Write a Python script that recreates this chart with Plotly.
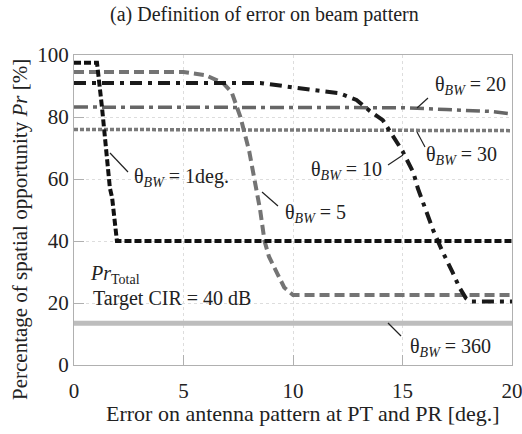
import plotly.graph_objects as go

# theta_BW = 1 deg
x1 = [0, 1.05, 1.28, 1.5, 1.64, 1.74, 1.87, 1.96, 20]
y1 = [97.5, 97.5, 83, 67, 57, 54, 46, 40, 40]
# theta_BW = 5
x5 = [0, 5, 6, 6.8, 7.2, 7.6, 8.0, 8.3, 8.5, 8.7, 8.9, 9.6, 10, 20]
y5 = [94.5, 94.5, 93.5, 91, 88, 80, 69, 58, 50, 40, 35, 25, 22.6, 22.6]
# theta_BW = 10
x10 = [0, 8.5, 10.9, 12.1, 12.9, 13.5, 14.1, 14.6, 15.0, 15.5, 15.7, 16.4, 16.8, 17.3, 17.6, 17.9, 18.1, 20]
y10 = [91, 91, 88.7, 87.7, 85.5, 82, 79, 73.5, 69, 62, 57, 43.5, 37, 29.7, 25, 21.5, 20.5, 20.5]
# theta_BW = 20
x20 = [0, 15, 17, 19, 20]
y20 = [83.2, 83, 82.4, 81.8, 81]
# theta_BW = 30
x30 = [0, 20]
y30 = [76, 75.6]
# theta_BW = 360
x360 = [0, 20]
y360 = [13.5, 13.5]

FONT = "Liberation Serif, Times New Roman, serif"
TXT = "#222222"

fig = go.Figure()
fig.add_trace(go.Scatter(x=x360, y=y360, mode="lines", line=dict(color="#bdbdbd", width=5)))
fig.add_trace(go.Scatter(x=x30, y=y30, mode="lines", line=dict(color="#7a7a7a", width=3.5, dash="4px,2px")))
fig.add_trace(go.Scatter(x=x20, y=y20, mode="lines", line=dict(color="#666666", width=3.5, dash="14px,5px,4px,5px")))
fig.add_trace(go.Scatter(x=x5, y=y5, mode="lines", line=dict(color="#747474", width=4, dash="10px,5px")))
fig.add_trace(go.Scatter(x=x10, y=y10, mode="lines", line=dict(color="#1a1a1a", width=4, dash="12px,6px,4px,6px")))
fig.add_trace(go.Scatter(x=x1, y=y1, mode="lines", line=dict(color="#111111", width=4, dash="7px,3px")))

def th(v):
    return "θ<sub><i>BW</i></sub> = " + v

def px2x(p):
    return (p - 74) / 438 * 20

def px2y(p):
    return (365 - p) / 310 * 100

def ppx(p):
    return (p - 74) / 438

def ppy(p):
    return (365 - p) / 310

ann = []
def lab(text, tx, ty, x0, y0, x1_, y1_):
    ann.append(dict(text=text, x=px2x(tx), y=px2y(ty), xref="x", yref="y", showarrow=False,
                    font=dict(family=FONT, size=20, color=TXT), xanchor="center", yanchor="middle"))
    fig.add_shape(type="line", x0=px2x(x0), y0=px2y(y0), x1=px2x(x1_), y1=px2y(y1_),
                  xref="x", yref="y", line=dict(color="#222", width=1.2))

lab(th("1deg."), 181, 177, 110, 153, 128, 172)
lab(th("5"), 315, 213, 262, 192, 278, 206)
lab(th("10"), 346, 170, 388, 165, 403, 155)
lab(th("20"), 470, 85, 417, 108, 428, 98)
lab(th("30"), 461, 155, 417, 132, 425, 147)
lab(th("360"), 450, 347, 388, 323, 401, 336)

ann.append(dict(text="<i>Pr</i><sub>Total</sub>", x=px2x(88), y=px2y(274), xref="x", yref="y",
                showarrow=False, xanchor="left", yanchor="middle",
                font=dict(family=FONT, size=20, color=TXT)))
ann.append(dict(text="Target CIR = 40 dB", x=px2x(91), y=px2y(298), xref="x", yref="y",
                showarrow=False, xanchor="left", yanchor="middle",
                font=dict(family=FONT, size=20, color=TXT)))

# titles as paper annotations
ann.append(dict(text="(a) Definition of error on beam pattern", x=ppx(264), y=ppy(15),
                xref="paper", yref="paper", showarrow=False, xanchor="center", yanchor="middle",
                font=dict(family=FONT, size=20, color=TXT)))
ann.append(dict(text="Error on antenna pattern at PT and PR [deg.]", x=ppx(303), y=ppy(414),
                xref="paper", yref="paper", showarrow=False, xanchor="center", yanchor="middle",
                font=dict(family=FONT, size=22, color=TXT)))
ann.append(dict(text="Percentage of spatial opportunity <i>Pr</i> [%]", x=ppx(20), y=ppy(230),
                xref="paper", yref="paper", showarrow=False, xanchor="center", yanchor="middle",
                textangle=-90, font=dict(family=FONT, size=21, color=TXT)))

fig.update_layout(
    width=522, height=434,
    margin=dict(l=74, r=10, t=55, b=69, autoexpand=False),
    paper_bgcolor="white", plot_bgcolor="white",
    showlegend=False,
    annotations=ann,
    font=dict(family=FONT, color=TXT),
)
fig.update_xaxes(range=[0, 20], tickvals=[0, 5, 10, 15, 20], ticks="inside", ticklen=10,
                 tickcolor="#b0b0b0", showline=True, linecolor="#b0b0b0", mirror=True,
                 showgrid=True, gridcolor="#dddddd", griddash="dot", zeroline=False,
                 automargin=False, ticklabelstandoff=7, ticklabeloverflow="allow",
                 tickfont=dict(family=FONT, size=21, color=TXT))
fig.update_yaxes(range=[0, 100], tickvals=[0, 20, 40, 60, 80, 100], ticks="inside", ticklen=10,
                 tickcolor="#b0b0b0", showline=True, linecolor="#b0b0b0", mirror=True,
                 showgrid=True, gridcolor="#dddddd", griddash="dot", zeroline=False,
                 automargin=False, ticklabeloverflow="allow",
                 tickfont=dict(family=FONT, size=21, color=TXT))

fig.write_html("out.html")
